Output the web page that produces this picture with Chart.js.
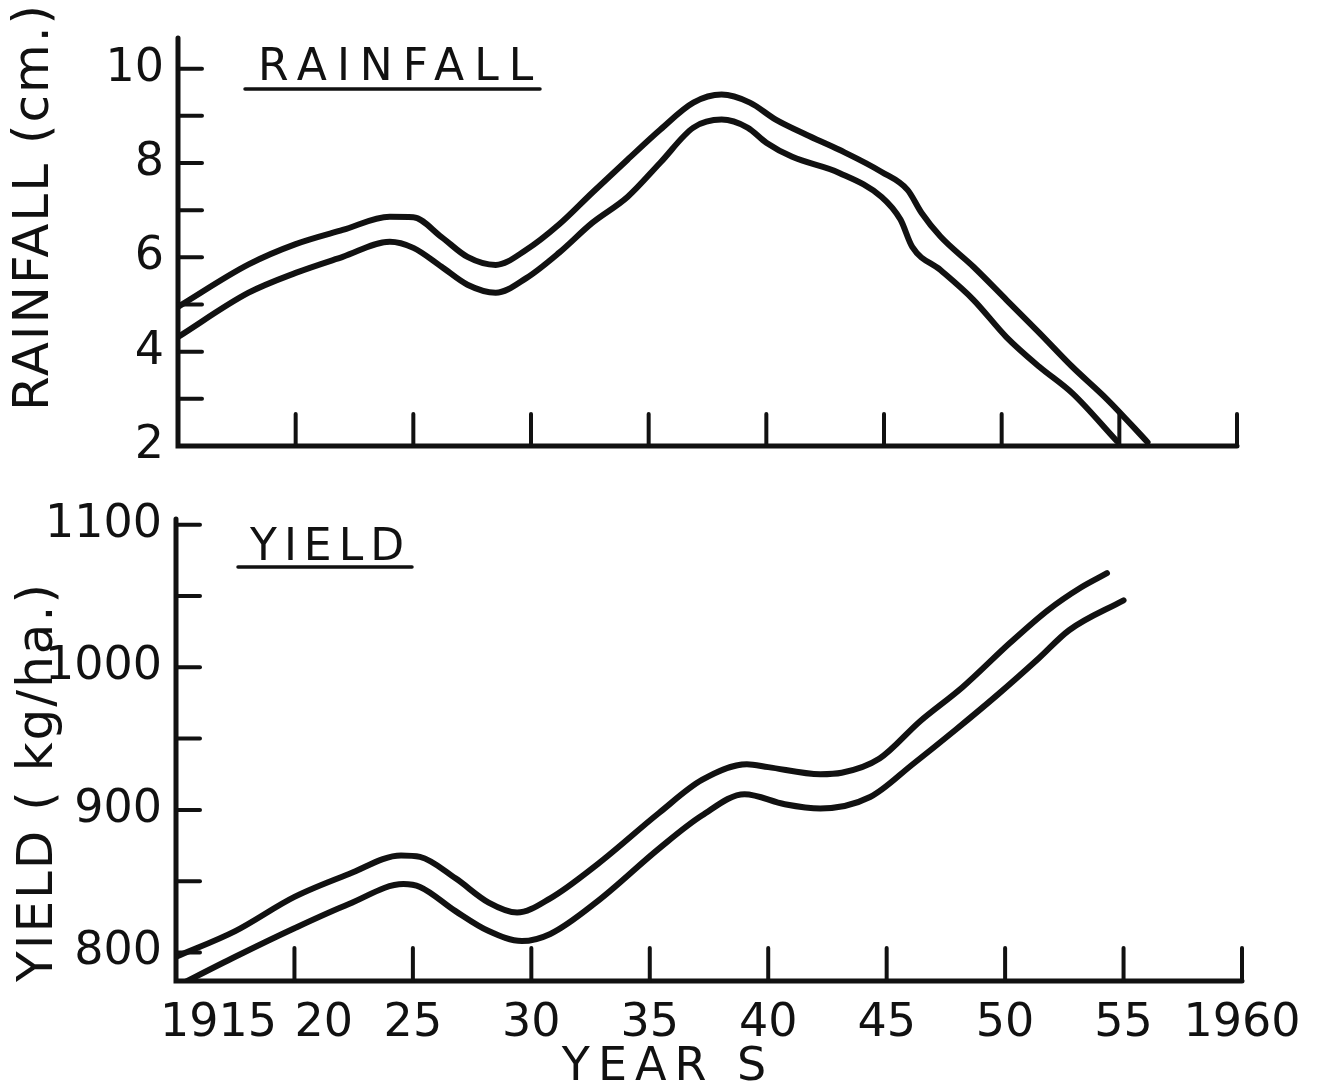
<!DOCTYPE html>
<html>
<head>
<meta charset="utf-8">
<script src="https://cdn.jsdelivr.net/npm/chart.js@4.4.0/dist/chart.umd.min.js"></script>
<style>
  html, body { margin: 0; padding: 0; background: #fff; }
  #wrap { position: relative; width: 1320px; height: 1085px; overflow: hidden; }
  canvas { position: absolute; left: 0; }
  #rain { top: 0; }
  #yield { top: 470px; }
</style>
</head>
<body>
<div id="wrap">
  <canvas id="rain" width="1320" height="470"></canvas>
  <canvas id="yield" width="1320" height="615"></canvas>
</div>
<script>
// x axis (years) shared by both panels
const yearTicks = [1915, 1920, 1925, 1930, 1935, 1940, 1945, 1950, 1955, 1960];
const yearLabels = ['1915', '20', '25', '30', '35', '40', '45', '50', '55', '1960'];

// rainfall panel (cm.)
const rainTicks = [2, 3, 4, 5, 6, 7, 8, 9, 10];
const rainLabels = [2, 4, 6, 8, 10];
const rainUpperYears = [1915, 1918, 1920, 1922, 1924, 1925, 1926.2, 1927.3, 1928.5, 1929.8, 1931.2, 1932.6, 1934.1, 1935.5, 1936.9, 1938.1, 1939.3, 1940.4, 1941.7, 1943.1, 1944.9, 1946, 1946.6, 1947.4, 1948.8, 1950.2, 1951.6, 1953, 1954.5, 1956.2];
const rainUpper = [4.95, 5.85, 6.28, 6.58, 6.86, 6.85, 6.43, 6.01, 5.84, 6.16, 6.7, 7.37, 8.07, 8.71, 9.28, 9.45, 9.28, 8.92, 8.6, 8.28, 7.81, 7.43, 6.94, 6.44, 5.8, 5.1, 4.4, 3.68, 2.98, 2.08];
const rainLowerYears = [1915, 1918, 1920, 1922, 1924, 1925, 1926.2, 1927.3, 1928.5, 1929.8, 1931.2, 1932.6, 1934.1, 1935.5, 1936.9, 1938.1, 1939.2, 1940, 1941.1, 1943.1, 1944.9, 1945.7, 1946.2, 1947.4, 1948.8, 1950.2, 1951.6, 1953, 1954.9];
const rainLower = [4.31, 5.25, 5.67, 6.01, 6.33, 6.2, 5.8, 5.42, 5.25, 5.56, 6.1, 6.73, 7.28, 8.01, 8.75, 8.92, 8.75, 8.43, 8.13, 7.79, 7.28, 6.8, 6.22, 5.73, 5.1, 4.31, 3.68, 3.12, 2.1];

// yield panel (kg/ha.)
const yieldTicks = [800, 850, 900, 950, 1000, 1050, 1100];
const yieldLabels = [800, 900, 1000, 1100];
const yieldUpperYears = [1915, 1917.5, 1920, 1922.3, 1924.5, 1925.3, 1926.8, 1928.2, 1929.4, 1930.8, 1932.8, 1935.4, 1937.2, 1939.1, 1940, 1942.2, 1943.1, 1944.7, 1946.4, 1948.2, 1950.2, 1951.8, 1953.2, 1954.3];
const yieldUpper = [797, 815, 839, 855, 868, 867, 852, 835, 828, 838, 862, 898, 921, 932, 930, 925, 926, 936, 962, 986, 1017, 1040, 1056, 1066];
const yieldLowerYears = [1915, 1917.5, 1920, 1922.3, 1924.6, 1925.3, 1926.8, 1928.2, 1929.6, 1930.8, 1932.8, 1935.4, 1937.2, 1939, 1940.7, 1942.2, 1944.3, 1946.1, 1947.9, 1949.7, 1951.4, 1952.7, 1955];
const yieldLower = [776, 797, 817, 834, 848, 846, 829, 815, 808, 813, 836, 873, 896, 911, 904, 901, 909, 932, 956, 981, 1006, 1026, 1047];

const INK = '#111111';
const FONT = '"DejaVu Sans", sans-serif';

function curve(xs, ys) {
  return {
    data: xs.map((x, i) => ({ x: x, y: ys[i] })),
    borderColor: INK,
    borderWidth: 6,
    pointRadius: 0,
    cubicInterpolationMode: 'monotone',
    borderCapStyle: 'round',
    borderJoinStyle: 'round',
    fill: false,
    clip: 0
  };
}

function spacedText(ctx, text, x, y, spacing) {
  if ('letterSpacing' in ctx) {
    ctx.letterSpacing = spacing + 'px';
    ctx.fillText(text, x, y);
    ctx.letterSpacing = '0px';
  } else {
    ctx.fillText(text, x, y);
  }
}

// axes, inward tick marks, and the hand-lettered captions
const sketchPlugin = {
  id: 'sketch',
  afterDraw(chart, args, o) {
    const ctx = chart.ctx;
    const a = chart.chartArea;
    const xs = chart.scales.x, ys = chart.scales.y;
    ctx.save();
    ctx.strokeStyle = INK;
    ctx.fillStyle = INK;
    ctx.lineCap = 'round';

    ctx.lineWidth = 5;
    ctx.beginPath();
    ctx.moveTo(a.left, a.top);
    ctx.lineTo(a.left, a.bottom);
    ctx.lineTo(a.right, a.bottom);
    ctx.stroke();

    ctx.lineWidth = 4;
    ys.ticks.forEach(t => {
      if (t.value <= ys.min) return;
      const py = ys.getPixelForValue(t.value);
      ctx.beginPath();
      ctx.moveTo(a.left, py);
      ctx.lineTo(a.left + o.yTick, py);
      ctx.stroke();
    });
    xs.ticks.forEach(t => {
      if (t.value <= xs.min) return;
      const px = xs.getPixelForValue(t.value);
      ctx.beginPath();
      ctx.moveTo(px, a.bottom);
      ctx.lineTo(px, a.bottom - o.xTick);
      ctx.stroke();
    });

    // year labels under the bottom panel
    if (o.xLabels) {
      ctx.font = '46px ' + FONT;
      ctx.textBaseline = 'alphabetic';
      xs.ticks.forEach((t, i) => {
        const px = xs.getPixelForValue(t.value);
        if (i === 0) { ctx.textAlign = 'left'; ctx.fillText(o.xLabels[i], px - 16, a.bottom + 55); }
        else if (i === 1) { ctx.textAlign = 'left'; ctx.fillText(o.xLabels[i], px, a.bottom + 55); }
        else { ctx.textAlign = 'center'; ctx.fillText(o.xLabels[i], px, a.bottom + 55); }
      });
    }
    if (o.xTitle) {
      ctx.font = '46px ' + FONT;
      ctx.textAlign = 'center';
      spacedText(ctx, o.xTitle, 668, a.bottom + 99, 8);
    }

    // rotated axis title
    ctx.save();
    ctx.translate(o.yTitleX, o.yTitleY);
    ctx.rotate(-Math.PI / 2);
    ctx.font = '50px ' + FONT;
    ctx.textAlign = 'center';
    ctx.textBaseline = 'alphabetic';
    spacedText(ctx, o.yTitle, 0, 18, 2);
    ctx.restore();

    // underlined panel heading
    ctx.font = o.headSize + 'px ' + FONT;
    ctx.textAlign = 'left';
    ctx.textBaseline = 'alphabetic';
    spacedText(ctx, o.head, o.headX, o.headY, o.headSpacing);
    ctx.lineWidth = 3.5;
    ctx.beginPath();
    ctx.moveTo(o.rule[0], o.rule[2]);
    ctx.lineTo(o.rule[1], o.rule[2]);
    ctx.stroke();

    ctx.restore();
  }
};

function panel(canvasId, datasets, yMin, yMax, yTicks, yLabels, pad, yWidth, xHeight, deco) {
  return new Chart(document.getElementById(canvasId), {
    type: 'line',
    data: { datasets: datasets },
    options: {
      responsive: false,
      animation: false,
      events: [],
      layout: { padding: pad },
      plugins: {
        legend: { display: false },
        tooltip: { enabled: false },
        sketch: deco
      },
      scales: {
        x: {
          type: 'linear',
          min: 1915,
          max: 1960,
          grid: { display: false, drawTicks: false },
          border: { display: false },
          ticks: { display: false },
          afterBuildTicks: s => { s.ticks = yearTicks.map(v => ({ value: v })); },
          afterFit: s => { s.height = xHeight; s.paddingLeft = 0; s.paddingRight = 0; }
        },
        y: {
          type: 'linear',
          min: yMin,
          max: yMax,
          grid: { display: false, drawTicks: false },
          border: { display: false },
          ticks: {
            autoSkip: false,
            padding: 14,
            color: INK,
            font: { family: FONT, size: 46 },
            callback: v => yLabels.includes(v) ? String(v) : ''
          },
          afterBuildTicks: s => { s.ticks = yTicks.map(v => ({ value: v })); },
          afterFit: s => { s.width = yWidth; s.paddingTop = 0; s.paddingBottom = 0; }
        }
      }
    },
    plugins: [sketchPlugin]
  });
}

panel('rain',
  [curve(rainUpperYears, rainUpper), curve(rainLowerYears, rainLower)],
  2, 10.65, rainTicks, rainLabels,
  { top: 38, right: 83, left: 0, bottom: 0 }, 178, 24,
  { yTick: 24, xTick: 32, yTitle: 'RAINFALL (cm.)', yTitleX: 30, yTitleY: 207,
    head: 'RAINFALL', headSize: 44, headX: 258, headY: 80, headSpacing: 10, rule: [245, 540, 89] });

panel('yield',
  [curve(yieldUpperYears, yieldUpper), curve(yieldLowerYears, yieldLower)],
  780, 1104, yieldTicks, yieldLabels,
  { top: 49, right: 78, left: 0, bottom: 0 }, 176, 104,
  { yTick: 24, xTick: 33, yTitle: 'YIELD ( kg/ha.)', yTitleX: 34, yTitleY: 312,
    head: 'YIELD', headSize: 44, headX: 250, headY: 90, headSpacing: 7, rule: [238, 412, 97],
    xLabels: yearLabels, xTitle: 'YEAR S' });
</script>
</body>
</html>
